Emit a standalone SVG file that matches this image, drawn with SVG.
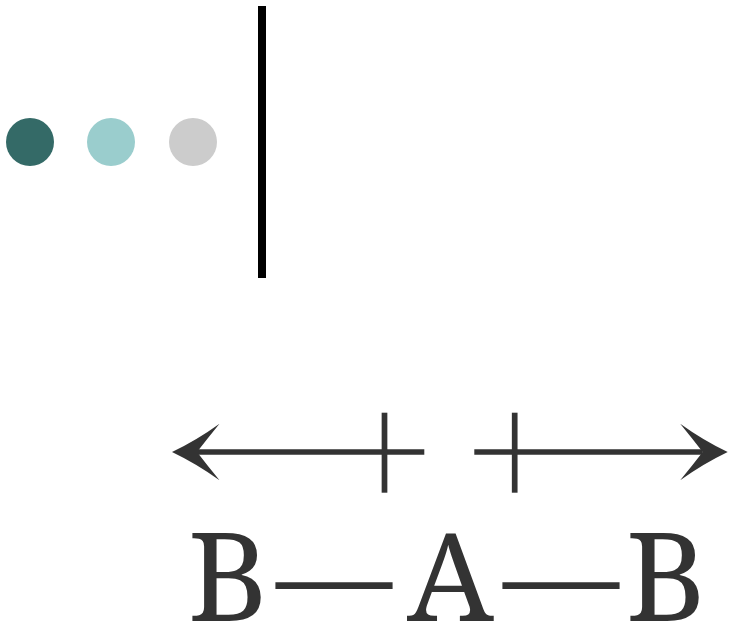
<svg xmlns="http://www.w3.org/2000/svg" width="733" height="630" viewBox="0 0 733 630">
<style>
.ink{stroke:#333;stroke-width:5.7;fill:none}
.lbl{font-family:"Noto Serif","Liberation Serif",serif;font-size:123px;fill:#333}
.dash{font-size:116px}
</style>
<defs>
<marker id="arr" markerUnits="userSpaceOnUse" viewBox="-30 -35 60 70" markerWidth="60" markerHeight="70" refX="0" refY="0" orient="auto">
<path d="M25,0 Q0,-12 -22.5,-28.3 Q-10,-13 0,0 Q-10,13 -22.5,28.3 Q0,12 25,0 Z" fill="#333"/>
</marker>
</defs>
<rect width="733" height="630" fill="#fff"/>
<g id="dots">
<circle cx="30" cy="142" r="24" fill="#346A67"/>
<circle cx="111" cy="142" r="24" fill="#9ACDCD"/>
<circle cx="193" cy="142" r="24" fill="#CCCCCC"/>
</g>
<rect id="divider" x="258" y="6" width="8" height="272" fill="#000"/>
<g id="connectors">
<path class="ink" d="M424.3,452 H197" marker-end="url(#arr)"/>
<path class="ink" d="M474.3,452 H702.7" marker-end="url(#arr)"/>
<path class="ink" d="M384.5,412.7 V492.7"/>
<path class="ink" d="M514.7,412.7 V492.7"/>
</g>
<g id="label">
<text class="lbl"><tspan x="187.7" y="621">B</tspan><tspan class="dash" x="276" y="616.5">—</tspan><tspan x="407" y="621">A</tspan><tspan class="dash" x="503" y="616.5">—</tspan><tspan x="625.7" y="621">B</tspan></text>
</g>
</svg>
